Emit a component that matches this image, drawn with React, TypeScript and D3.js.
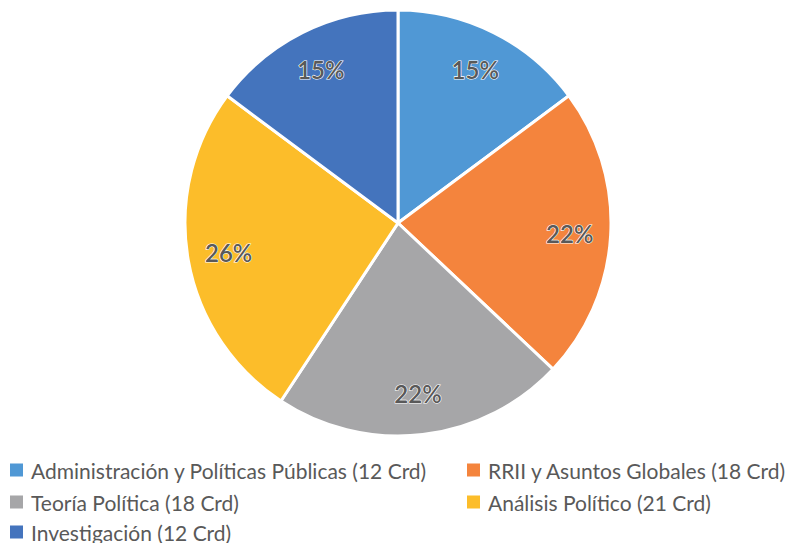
import React from "react";
import * as d3 from "d3";

const categories = [
  "Administración y Políticas Públicas (12 Crd)",
  "RRII y Asuntos Globales (18 Crd)",
  "Teoría Política (18 Crd)",
  "Análisis Político (21 Crd)",
  "Investigación (12 Crd)",
];
const values = [12, 18, 18, 21, 12];
const colors = ["#5098D5", "#F4843D", "#A6A6A8", "#FCBD2A", "#4474BD"];

const W = 785;
const H = 543;
const cx = 398;
const cy = 223;
const R = 213;
const FONT = "Lato, 'Open Sans', sans-serif";

export default function App() {
  const pie = d3.pie<number>().sort(null).value((d) => d);
  const arcs = pie(values);
  const arc = d3.arc<d3.PieArcDatum<number>>().innerRadius(0).outerRadius(R);
  const labelArc = d3
    .arc<d3.PieArcDatum<number>>()
    .innerRadius(172)
    .outerRadius(172);
  const total = d3.sum(values);

  const legendPos = [
    { x: 10, y: 470 },
    { x: 467, y: 470 },
    { x: 10, y: 502 },
    { x: 467, y: 502 },
    { x: 10, y: 532 },
  ];

  return (
    <svg
      width={W}
      height={H}
      style={{ position: "absolute", left: 0, top: 0, background: "#fff" }}
    >
      <g transform={`translate(${cx},${cy})`}>
        {arcs.map((a, i) => (
          <path
            key={i}
            d={arc(a) || ""}
            fill={colors[i]}
            stroke="#fff"
            strokeWidth={3}
          />
        ))}
        {arcs.map((a, i) => {
          const [x, y] = labelArc.centroid(a);
          return (
            <text
              key={"l" + i}
              x={x}
              y={y}
              textAnchor="middle"
              dominantBaseline="central"
              fontFamily={FONT}
              fontSize={24}
              fontWeight={600}
              fill="#595959"
              stroke="#fff"
              strokeWidth={1.2}
              paintOrder="stroke"
            >
              {Math.round((values[i] / total) * 100)}%
            </text>
          );
        })}
      </g>
      {categories.map((c, i) => (
        <g key={"lg" + i} transform={`translate(${legendPos[i].x},${legendPos[i].y})`}>
          <rect x={0} y={-6.5} width={13} height={13} fill={colors[i]} />
          <text
            x={21}
            y={0}
            dominantBaseline="central"
            fontFamily={FONT}
            fontSize={21}
            fill="#595959"
          >
            {c}
          </text>
        </g>
      ))}
    </svg>
  );
}
